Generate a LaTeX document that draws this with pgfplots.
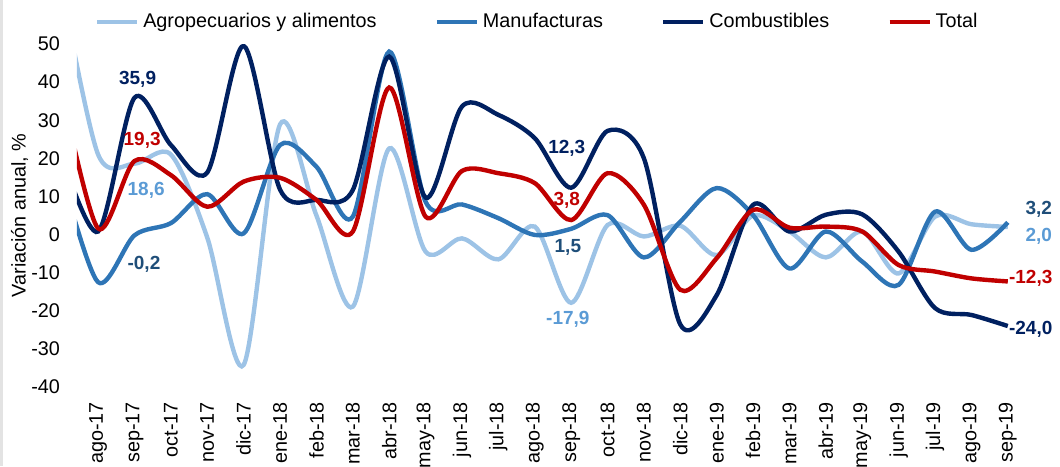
\documentclass[border=0pt]{standalone}
\usepackage{fontspec}
\setmainfont{Liberation Sans}
\usepackage{pgfplots}
\pgfplotsset{compat=1.18}
\usepackage{pgfplotstable}

\definecolor{agro}{HTML}{9DC3E6}
\definecolor{manu}{HTML}{2E75B6}
\definecolor{comb}{HTML}{002060}
\definecolor{tot}{HTML}{C00000}
\definecolor{labagro}{HTML}{5B9BD5}
\definecolor{labmanu}{HTML}{1F4E79}

\pgfplotstableread{
i agro manu comb tot
-1 65 16 21 38
0 21 -12.5 0.8 1.6
1 18.6 -0.2 35.9 19.3
2 21 3 23.5 15.6
3 -0.8 10.6 16.3 7.3
4 -34.2 0.3 49.5 13.9
5 28.9 23.5 11.8 14.9
6 5 17.8 9.1 9.1
7 -18.9 4.7 11.7 0.8
8 22.6 48 46.7 38.6
9 -4.5 8.6 9.7 4.7
10 -1 7.9 33.6 16.7
11 -6.5 4.3 31.4 16.1
12 2.1 -0.1 25.3 13.5
13 -17.9 1.5 12.3 3.8
14 2.5 5.1 27.2 16.1
15 -0.5 -6 20 7.8
16 2.3 3.4 -23.6 -14.5
17 -5.4 12.2 -15.9 -6.2
18 5 5.1 7.8 6.5
19 0.8 -8.9 0.8 1.8
20 -6 0.8 5.2 2.1
21 0.8 -7.1 5.3 0.8
22 -10.2 -13.2 -4.5 -8.0
23 4.7 6 -19.3 -9.7
24 2.7 -4 -21.1 -11.5
25 2.0 3.2 -24.0 -12.3
}\data

\begin{document}
\begin{tikzpicture}
\path[use as bounding box] (-38.5pt,-39.5pt) rectangle (491.5pt,193.5pt);
\fill[gray!22] (-38.5pt,-39.5pt) rectangle (-37pt,193.5pt);
\begin{axis}[
  at={(0pt,0pt)}, anchor=south west,
  scale only axis, width=474.5pt, height=171.5pt,
  xmin=-0.58, xmax=25.5, ymin=-40, ymax=50,
  axis line style={draw=none},
  major tick length=0pt,
  ytick={-40,-30,...,50},
  xtick={0,...,25},
  xticklabels={ago-17,sep-17,oct-17,nov-17,dic-17,ene-18,feb-18,mar-18,abr-18,may-18,jun-18,jul-18,ago-18,sep-18,oct-18,nov-18,dic-18,ene-19,feb-19,mar-19,abr-19,may-19,jun-19,jul-19,ago-19,sep-19},
  xticklabel style={rotate=90, anchor=east, font=\fontsize{9.9}{11}\selectfont},
  xticklabel shift=4pt,
  yticklabel style={font=\fontsize{9.9}{11}\selectfont},
  yticklabel shift=5pt,
  /pgf/number format/assume math mode=true,
  ylabel={Variación anual, \%},
  ylabel style={at={(axis description cs:-0.0606,0.5)}, anchor=center, font=\fontsize{9.9}{11}\selectfont},
  clip mode=individual,
  legend columns=4,
  legend style={draw=none, fill=none, at={(axis description cs:0.486,1)}, anchor=center, yshift=11pt,
    font=\fontsize{9.9}{11}\selectfont,
    /tikz/every even column/.append style={column sep=27pt}},
  legend image code/.code={\draw[#1, line width=2.2pt] (0pt,0pt) -- (20pt,0pt);},
  every axis plot/.append style={line width=2.2pt, smooth},
]
\addplot[agro] table[x=i, y=agro] {\data};
\addlegendentry{Agropecuarios y alimentos}
\addplot[manu] table[x=i, y=manu] {\data};
\addlegendentry{Manufacturas}
\addplot[comb] table[x=i, y=comb] {\data};
\addlegendentry{Combustibles}
\addplot[tot] table[x=i, y=tot] {\data};
\addlegendentry{Total}

\begin{scope}[every node/.style={font=\bfseries\fontsize{9.5}{11}\selectfont}]
\node[text=comb] at (axis cs:1.085,40.8) {35,9};
\node[text=tot] at (axis cs:1.21,24.6) {19,3};
\node[text=labagro] at (axis cs:1.32,11.6) {18,6};
\node[text=labmanu] at (axis cs:1.26,-7.7) {-0,2};
\node[text=comb] at (axis cs:12.88,22.7) {12,3};
\node[text=tot] at (axis cs:12.88,9.1) {3,8};
\node[text=labmanu] at (axis cs:12.91,-3.5) {1,5};
\node[text=labagro] at (axis cs:12.91,-22.2) {-17,9};
\node[text=labmanu] at (axis cs:25.85,6.5) {3,2};
\node[text=labagro] at (axis cs:25.85,-0.4) {2,0};
\node[text=tot] at (axis cs:25.63,-11.4) {-12,3};
\node[text=comb] at (axis cs:25.63,-25.0) {-24,0};
\end{scope}
\end{axis}
\end{tikzpicture}
\end{document}
